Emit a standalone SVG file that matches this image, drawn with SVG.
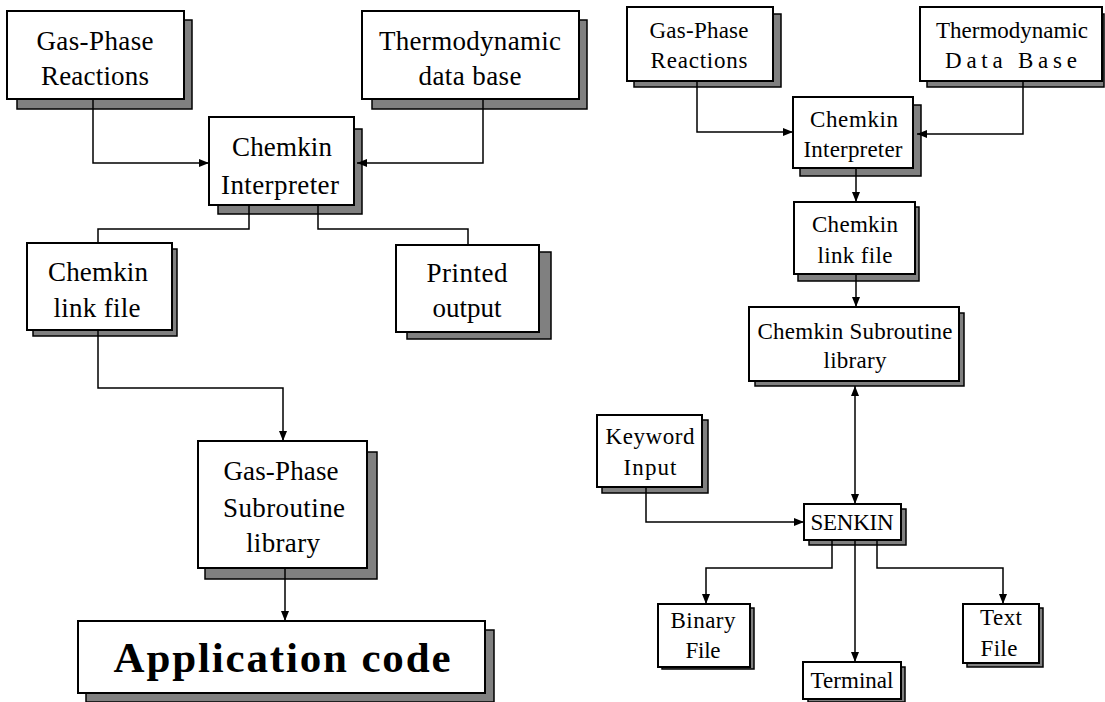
<svg xmlns="http://www.w3.org/2000/svg" width="1105" height="702" viewBox="0 0 1105 702">
<style>
.box{fill:#fff;stroke:#000;stroke-width:2}
.sh{fill:#808080;stroke:#000;stroke-width:1.5}
.t{font-family:"Liberation Serif","Times New Roman",serif;font-size:27px;fill:#000;text-anchor:middle}
.s{font-family:"Liberation Serif","Times New Roman",serif;font-size:23px;fill:#000;text-anchor:middle}
.big{font-family:"Liberation Serif","Times New Roman",serif;font-size:43px;font-weight:bold;fill:#000;text-anchor:middle}
.c{fill:none;stroke:#000;stroke-width:1.5}
.a{marker-end:url(#ah)}
.d{marker-start:url(#ah);marker-end:url(#ah)}
</style>
<defs>
<marker id="ah" markerUnits="userSpaceOnUse" markerWidth="11" markerHeight="10" refX="10" refY="5" orient="auto-start-reverse">
<path d="M0,1 L10,5 L0,9 z" fill="#000"/>
</marker>
</defs>
<rect width="1105" height="702" fill="#fff"/>
<g id="n-gpr-left"><rect class="sh" x="17" y="20" width="175" height="89"/><rect class="box" x="7" y="11" width="177" height="88"/><text class="t" x="95" y="50" textLength="117" lengthAdjust="spacing">Gas-Phase</text><text class="t" x="95" y="85" textLength="108" lengthAdjust="spacing">Reactions</text></g>
<g id="n-thermo-left"><rect class="sh" x="372" y="20" width="215" height="89"/><rect class="box" x="362" y="11" width="217" height="88"/><text class="t" x="470" y="50" textLength="182" lengthAdjust="spacing">Thermodynamic</text><text class="t" x="470" y="85" textLength="103" lengthAdjust="spacing">data base</text></g>
<g id="n-interp-left"><rect class="sh" x="218" y="129" width="144" height="85"/><rect class="box" x="209" y="117" width="145" height="88"/><text class="t" x="282" y="156" textLength="100" lengthAdjust="spacing">Chemkin</text><text class="t" x="280" y="194" textLength="118" lengthAdjust="spacing">Interpreter</text></g>
<g id="n-link-left"><rect class="sh" x="33" y="249" width="144" height="87"/><rect class="box" x="27" y="243" width="145" height="87"/><text class="t" x="98" y="281" textLength="100" lengthAdjust="spacing">Chemkin</text><text class="t" x="97" y="317" textLength="87" lengthAdjust="spacing">link file</text></g>
<g id="n-printed"><rect class="sh" x="407" y="252" width="144" height="87"/><rect class="box" x="396" y="245" width="143" height="87"/><text class="t" x="467" y="282" textLength="81" lengthAdjust="spacing">Printed</text><text class="t" x="467" y="317" textLength="69" lengthAdjust="spacing">output</text></g>
<g id="n-gpslib"><rect class="sh" x="205" y="452" width="172" height="127"/><rect class="box" x="198" y="441" width="169" height="127"/><text class="t" x="281" y="480" textLength="115" lengthAdjust="spacing">Gas-Phase</text><text class="t" x="284" y="517" textLength="122" lengthAdjust="spacing">Subroutine</text><text class="t" x="283" y="552" textLength="74" lengthAdjust="spacing">library</text></g>
<g id="n-app"><rect class="sh" x="86" y="630" width="408" height="72"/><rect class="box" x="78" y="621" width="407" height="72"/><text class="big" x="282" y="672" textLength="337" lengthAdjust="spacing">Application code</text></g>
<g id="n-gpr-right"><rect class="sh" x="634" y="14" width="147" height="73"/><rect class="box" x="627" y="7" width="146" height="74"/><text class="s" x="699" y="38" textLength="99" lengthAdjust="spacing">Gas-Phase</text><text class="s" x="699" y="68" textLength="97" lengthAdjust="spacing">Reactions</text></g>
<g id="n-thermo-right"><rect class="sh" x="927" y="14" width="177" height="73"/><rect class="box" x="920" y="7" width="182" height="74"/><text class="s" x="1012" y="38" textLength="152" lengthAdjust="spacing">Thermodynamic</text><text class="s" x="1011" y="68" textLength="132" lengthAdjust="spacing">Data Base</text></g>
<g id="n-interp-right"><rect class="sh" x="800" y="105" width="121" height="71"/><rect class="box" x="793" y="97" width="120" height="71"/><text class="s" x="854" y="127" textLength="88" lengthAdjust="spacing">Chemkin</text><text class="s" x="853" y="157" textLength="99" lengthAdjust="spacing">Interpreter</text></g>
<g id="n-link-right"><rect class="sh" x="798" y="207" width="121" height="74"/><rect class="box" x="794" y="202" width="121" height="72"/><text class="s" x="855" y="232" textLength="86" lengthAdjust="spacing">Chemkin</text><text class="s" x="855" y="263" textLength="75" lengthAdjust="spacing">link file</text></g>
<g id="n-sublib"><rect class="sh" x="755" y="313" width="209" height="73"/><rect class="box" x="749" y="307" width="210" height="74"/><text class="s" x="855" y="339" textLength="195" lengthAdjust="spacing">Chemkin Subroutine</text><text class="s" x="855" y="368" textLength="63" lengthAdjust="spacing">library</text></g>
<g id="n-keyword"><rect class="sh" x="602" y="420" width="106" height="73"/><rect class="box" x="597" y="415" width="105" height="72"/><text class="s" x="650" y="444" textLength="89" lengthAdjust="spacing">Keyword</text><text class="s" x="650" y="475" textLength="53" lengthAdjust="spacing">Input</text></g>
<g id="n-senkin"><rect class="sh" x="809" y="509" width="97" height="36"/><rect class="box" x="804" y="504" width="97" height="36"/><text class="s" x="852" y="530" textLength="83" lengthAdjust="spacing">SENKIN</text></g>
<g id="n-binary"><rect class="sh" x="662" y="608" width="92" height="61"/><rect class="box" x="658" y="604" width="92" height="63"/><text class="s" x="703" y="628" textLength="65" lengthAdjust="spacing">Binary</text><text class="s" x="703" y="658" textLength="35" lengthAdjust="spacing">File</text></g>
<g id="n-terminal"><rect class="sh" x="808" y="667" width="97" height="35"/><rect class="box" x="803" y="662" width="98" height="37"/><text class="s" x="852" y="688" textLength="83" lengthAdjust="spacing">Terminal</text></g>
<g id="n-textfile"><rect class="sh" x="967" y="608" width="76" height="59"/><rect class="box" x="963" y="604" width="76" height="59"/><text class="s" x="1001" y="625" textLength="42" lengthAdjust="spacing">Text</text><text class="s" x="999" y="656" textLength="37" lengthAdjust="spacing">File</text></g>
<g id="connectors">
<path class="c a" d="M93,99 V163 H209"/>
<path class="c a" d="M483,99 V163 H357"/>
<path class="c" d="M249,205 V229 H98 V243"/>
<path class="c" d="M318,205 V229 H468 V245"/>
<path class="c a" d="M98,330 V388 H283 V441"/>
<path class="c a" d="M285,568 V621"/>
<path class="c a" d="M697,81 V132 H793"/>
<path class="c a" d="M1023,81 V134 H917"/>
<path class="c a" d="M856,168 V202"/>
<path class="c a" d="M856,274 V307"/>
<path class="c d" d="M855,386 V504"/>
<path class="c a" d="M646,487 V522 H804"/>
<path class="c a" d="M832,540 V568 H706 V604"/>
<path class="c a" d="M855,540 V662"/>
<path class="c a" d="M877,540 V568 H1003 V604"/>
</g>
</svg>
